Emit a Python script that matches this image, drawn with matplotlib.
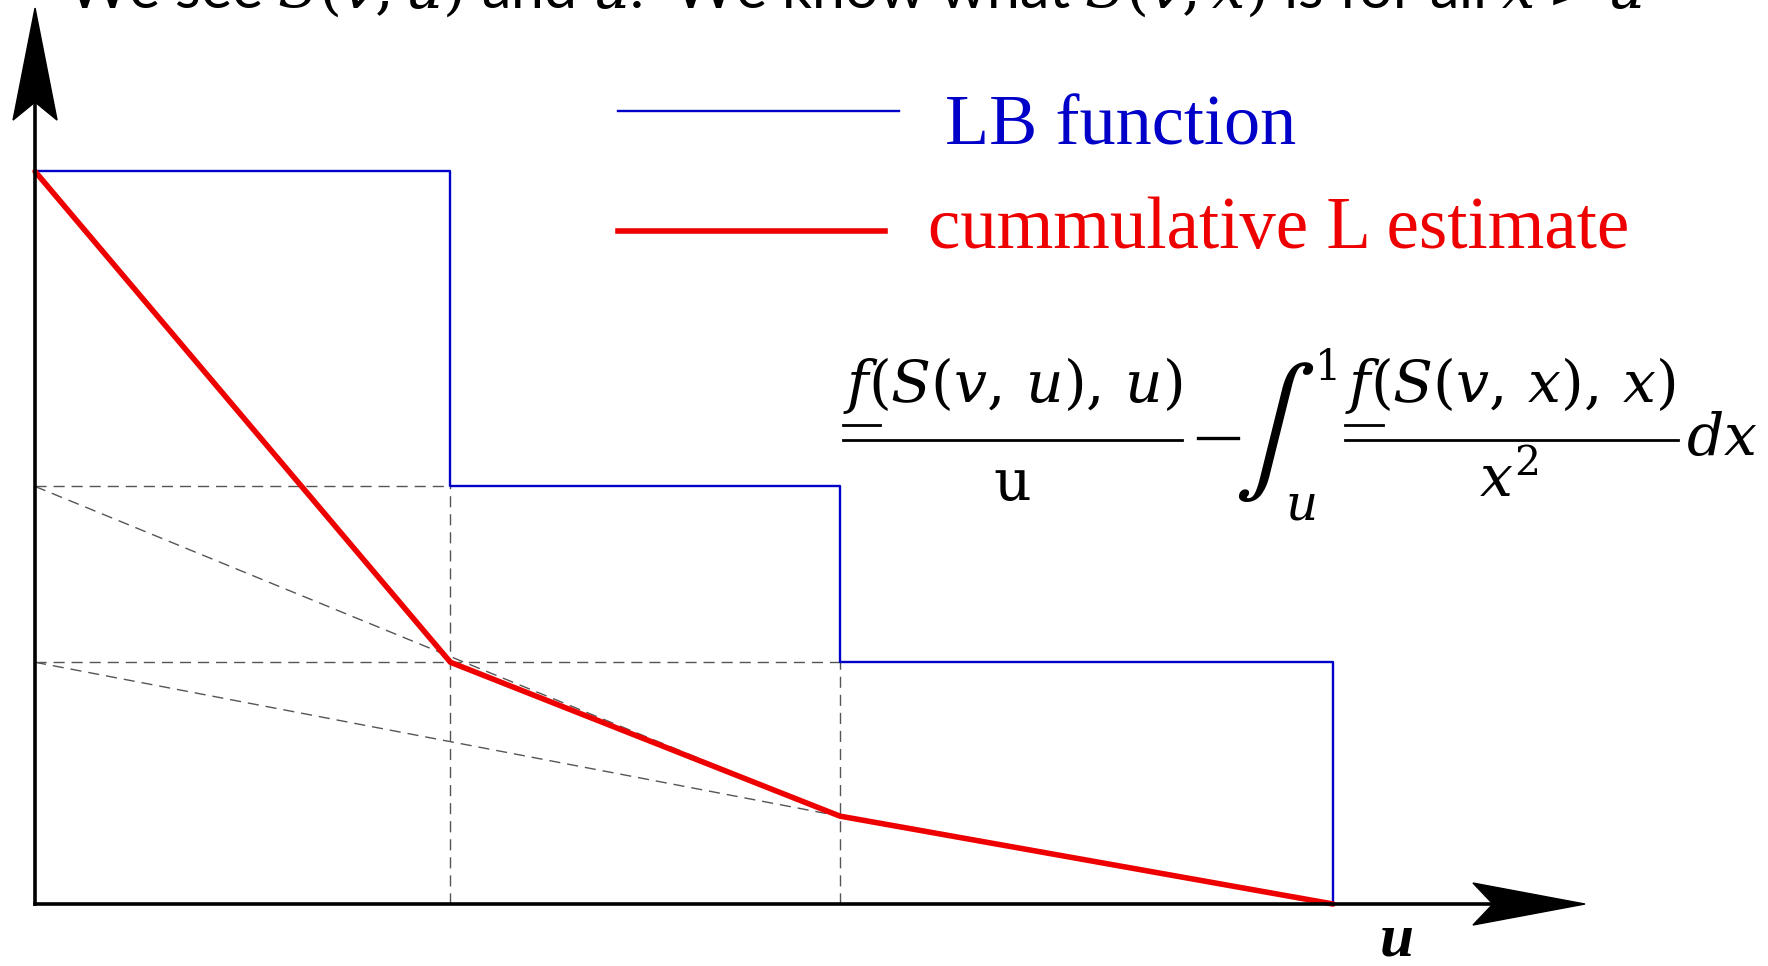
import matplotlib
matplotlib.use("Agg")
import matplotlib.pyplot as plt
import matplotlib.transforms as mtransforms
from matplotlib.patches import Polygon
from matplotlib.lines import Line2D

plt.rcParams['mathtext.fontset'] = 'custom'
plt.rcParams['mathtext.rm'] = 'DejaVu Serif'
plt.rcParams['mathtext.it'] = 'DejaVu Serif:italic'

# step boundaries on the u axis and the lower-bound level on each step
u_breaks = [0.0, 0.32, 0.62, 1.0]
lb_levels = [1.0, 0.57, 0.33]
# cumulative L estimate at each boundary
est_values = [1.0, 0.33, 0.12, 0.0]

W, H = 1768, 966
BLUE = '#0000c8'
RED = '#ee0000'

fig = plt.figure(figsize=(W / 100, H / 100), dpi=100)
ax = fig.add_axes([0, 0, 1, 1])
ax.set_xlim(-0.027, 1.335)
ax.set_ylim(-0.0846, 1.234)
ax.axis('off')


def fpos(x, y):
    # pixel position (from top-left) -> figure fraction
    return x / W, 1 - y / H


def hline(x0, x1, y, lw=2.0):
    fig.add_artist(Line2D([x0 / W, x1 / W], [1 - y / H] * 2, color='black', lw=lw))


# dashed construction lines
dash = dict(color='#555555', lw=1.0, dashes=(8, 5), zorder=1)
for k in (1, 2):
    ax.plot([0, u_breaks[k]], [lb_levels[k], lb_levels[k]], **dash)
    ax.plot([u_breaks[k], u_breaks[k]], [0, lb_levels[k]], **dash)
    ax.plot([0, u_breaks[2]], [lb_levels[k], est_values[2]], **dash)

# LB step function
xs, ys = [], []
for i, lvl in enumerate(lb_levels):
    xs += [u_breaks[i], u_breaks[i + 1]]
    ys += [lvl, lvl]
xs.append(u_breaks[-1])
ys.append(0)
ax.plot(xs, ys, color=BLUE, lw=1.7, zorder=2)

# cumulative estimate
ax.plot(u_breaks, est_values, color=RED, lw=4, zorder=3, solid_capstyle='round')

# axes with stealth arrowheads
x_tip, y_tip = 1.194, 1.223
ax.plot([0, x_tip - 0.05], [0, 0], color='black', lw=2.6, zorder=4)
ax.plot([0, 0], [0, y_tip - 0.08], color='black', lw=2.6, zorder=4)
tr_x = fig.dpi_scale_trans + mtransforms.ScaledTranslation(x_tip, 0, ax.transData)
tr_y = fig.dpi_scale_trans + mtransforms.ScaledTranslation(0, y_tip, ax.transData)
ax.add_patch(Polygon([(0, 0), (-1.12, 0.21), (-0.92, 0), (-1.12, -0.21)],
                     closed=True, color='black', transform=tr_x, zorder=5))
ax.add_patch(Polygon([(0, 0), (-0.22, -1.12), (0, -0.94), (0.22, -1.12)],
                     closed=True, color='black', transform=tr_y, zorder=5))

fig.text(*fpos(1397, 956), 'u', fontsize=44, family='Liberation Serif',
         style='italic', weight='bold', ha='center', va='baseline')

# legend
fig.add_artist(Line2D([618 / W, 899 / W], [1 - 111 / H] * 2, color=BLUE, lw=1.7))
fig.add_artist(Line2D([618 / W, 885 / W], [1 - 231 / H] * 2, color=RED, lw=4))
fig.text(*fpos(945, 144), 'LB function', fontsize=52, family='Liberation Serif',
         color=BLUE, va='baseline')
fig.text(*fpos(928, 248), 'cummulative L estimate', fontsize=52.5,
         family='Liberation Serif', color=RED, va='baseline')

# heading, cut by the top edge
fig.text(*fpos(67, 8), r'We see $S(v,u)$ and $u$.  We know what $S(v,x)$ is for all $x > u$',
         fontsize=42.6, family='Lato', va='baseline', ha='left')

# formula
fs = 42
fig.text(*fpos(843, 402), r'$f(S(v,\,u),\,u)$', fontsize=fs, ha='left', va='baseline')
hline(843, 880, 425)
hline(843, 1182, 440)
fig.text(*fpos(1012, 500), r'$\mathrm{u}$', fontsize=fs, ha='center', va='baseline')
hline(1198, 1238, 438, lw=2.4)
fig.text(*fpos(1274, 432), r'$\int$', fontsize=88, math_fontfamily='stix',
         ha='center', va='center')
fig.text(*fpos(1325, 380), r'$1$', fontsize=30, ha='center', va='baseline')
fig.text(*fpos(1300, 519), r'$u$', fontsize=36, ha='center', va='baseline')
fig.text(*fpos(1345, 402), r'$f(S(v,\,x),\,x)$', fontsize=fs, ha='left', va='baseline')
hline(1345, 1383, 425)
hline(1345, 1678, 440)
fig.text(*fpos(1509, 497), r'$x^{2}$', fontsize=fs, ha='center', va='baseline')
fig.text(*fpos(1686, 455), r'$dx$', fontsize=fs, ha='left', va='baseline')

fig.savefig('out.png', dpi=100)
